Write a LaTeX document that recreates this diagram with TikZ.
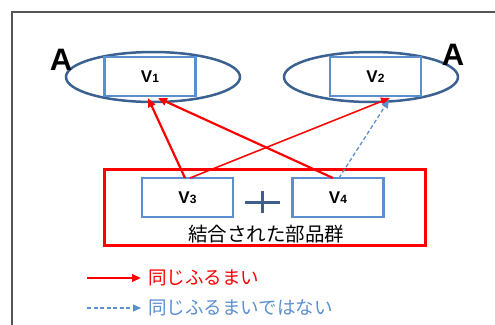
\documentclass[tikz,border=0pt]{standalone}
\usepackage{fontspec}
\setmainfont{Liberation Sans}
\newfontfamily\jp{Noto Sans CJK JP}
\usetikzlibrary{shapes.geometric,arrows.meta}
\definecolor{ellblue}{HTML}{3A6190}
\definecolor{boxblue}{HTML}{5B8FD0}
\definecolor{plusblue}{HTML}{3F5F8A}
\definecolor{framegray}{HTML}{555555}
\tikzset{
  ell/.style={draw=ellblue, line width=2.5pt, ellipse, minimum width=174pt, minimum height=50pt, inner sep=0pt},
  vbox/.style={draw=boxblue, fill=white, line width=2.4pt, minimum width=91pt, minimum height=39pt, inner sep=0pt, font=\fontsize{17}{19}\selectfont\bfseries},
  grp/.style={draw=red, line width=3pt, minimum width=321pt, minimum height=76pt, inner sep=0pt},
  same/.style={draw=red, line width=2.2pt, -{Triangle[length=9pt,width=7.5pt]}},
  samethin/.style={draw=red, line width=1.5pt, -{Triangle[length=9pt,width=7.5pt]}},
  notsame/.style={draw=boxblue, line width=1.3pt, dashed, dash pattern=on 4pt off 2.5pt, -{Triangle[length=8pt,width=7pt]}},
  bigA/.style={font=\fontsize{31}{33}\selectfont\bfseries, inner sep=0pt},
  jptext/.style={font=\jp\fontsize{19.5}{21}\selectfont, inner sep=0pt},
  legtext/.style={font=\jp\fontsize{18.5}{20}\selectfont, inner sep=0pt, anchor=west},
}
\begin{document}
\begin{tikzpicture}[x=1pt,y=-1pt]
\useasboundingbox (0,0) rectangle (495,324);
% frame
\draw[framegray, line width=1.5pt] (12,330) -- (12,12) -- (500,12);
% ellipses
\node[ell] (e1) at (153,77) {};
\node[ell] (e2) at (371,77) {};
\node[vbox] (v1) at (150,76.5) {V{\fontsize{12}{13}\selectfont 1}};
\node[vbox] (v2) at (375.5,76.5) {V{\fontsize{12}{13}\selectfont 2}};
\node[bigA] (a1) at (61,60) {A};
\node[bigA] (a2) at (453,55) {A};
% group
\node[grp] (g) at (264.5,207) {};
\node[vbox] (v3) at (187.5,197.5) {V{\fontsize{12}{13}\selectfont 3}};
\node[vbox] (v4) at (338,197.5) {V{\fontsize{12}{13}\selectfont 4}};
\node[inner sep=0pt, minimum width=34pt, minimum height=22pt] (plus) at (262.5,202) {};
\draw[plusblue, line width=3pt] (plus.west) -- (plus.east);
\draw[plusblue, line width=3pt] (plus.north) -- (plus.south);
\node[jptext] (gl) at (266,234) {結合された部品群};
% arrow endpoints
\coordinate (s31) at (185,178);
\coordinate (s32) at (190,178);
\coordinate (s41) at (333,178);
\coordinate (s42) at (339,178);
\coordinate (t11) at (148,98);
\coordinate (t12) at (158,98);
\coordinate (t21) at (390,98);
\coordinate (t22) at (389,100);
\draw[same] (s31) -- (t11);
\draw[same] (s41) -- (t12);
\draw[samethin] (s32) -- (t21);
\draw[notsame] (s42) -- (t22);
% legend
\coordinate (l1a) at (87,278);
\coordinate (l1b) at (141,278);
\coordinate (l2a) at (87,308);
\coordinate (l2b) at (141,308);
\draw[same] (l1a) -- (l1b);
\draw[notsame] (l2a) -- (l2b);
\node[legtext, text=red] (lt1) at (148,278) {同じふるまい};
\node[legtext, text=boxblue] (lt2) at (148,308) {同じふるまいではない};
\end{tikzpicture}
\end{document}
